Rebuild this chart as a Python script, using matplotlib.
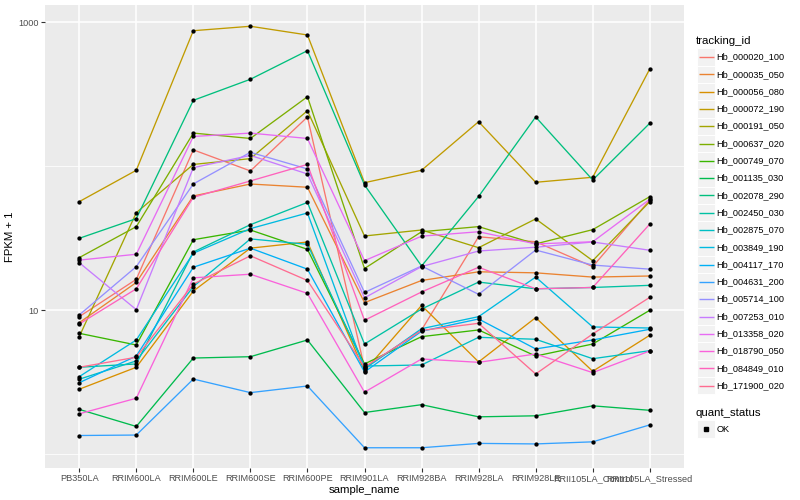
import matplotlib
matplotlib.use("Agg")
import matplotlib.pyplot as plt
from matplotlib.ticker import FixedLocator, NullFormatter
from matplotlib.patches import Rectangle

plt.rcParams['font.family'] = ['Liberation Sans', 'DejaVu Sans']

samples = ["PB350LA", "RRIM600LA", "RRIM600LE", "RRIM600SE", "RRIM600PE",
           "RRIM901LA", "RRIM928BA", "RRIM928LA", "RRIM928LE",
           "RRII105LA_Control", "RRII105LA_Stressed"]

tracking_ids = ["Hb_000020_100", "Hb_000035_050", "Hb_000056_080", "Hb_000072_190",
                "Hb_000191_050", "Hb_000637_020", "Hb_000749_070", "Hb_001135_030",
                "Hb_002078_290", "Hb_002450_030", "Hb_002875_070", "Hb_003849_190",
                "Hb_004117_170", "Hb_004631_200", "Hb_005714_100", "Hb_007253_010",
                "Hb_013358_020", "Hb_018790_050", "Hb_084849_010", "Hb_171900_020"]

colors = ["#F8766D", "#EA8331", "#D89000", "#C09B00", "#A3A500", "#7CAE00", "#39B600",
          "#00BB4E", "#00BF7D", "#00C1A3", "#00BFC4", "#00BAE0", "#00B0F6", "#35A2FF",
          "#9590FF", "#C77CFF", "#E76BF3", "#FA62DB", "#FF62BC", "#FF6C91"]

# FPKM + 1 values, one list per tracking_id, in sample order
hb_000020_100 = [9.03, 16.4, 130, 92.8, 220, 3.97, 7.30, 32.4, 29.9, 20.1, 58.3]
hb_000035_050 = [8.20, 15.6, 62.2, 75.3, 71.5, 11.3, 16.1, 18.5, 18.2, 17.0, 17.3]
hb_000056_080 = [2.83, 4.02, 13.6, 27.0, 29.8, 3.79, 10.8, 4.38, 8.89, 3.77, 6.71]
hb_000072_190 = [56.8, 93.8, 874, 938, 816, 76.9, 93.8, 204, 77.4, 83.9, 474]
hb_000191_050 = [6.56, 47.6, 103, 113, 243, 32.8, 36.1, 27.2, 43.1, 22.1, 56.8]
hb_000637_020 = [23.2, 38.1, 170, 156, 304, 19.5, 35.1, 38.1, 28.9, 36.3, 61.5]
hb_000749_070 = [6.92, 5.74, 30.9, 36.1, 26.5, 4.24, 6.56, 7.30, 4.81, 5.83, 10.0]
hb_001135_030 = [2.05, 1.56, 4.66, 4.76, 6.22, 1.95, 2.21, 1.82, 1.85, 2.17, 2.02]
hb_002078_290 = [31.6, 43.3, 287, 402, 635, 74.2, 20.3, 61.7, 220, 80.3, 199]
hb_002450_030 = [4.02, 4.24, 25.4, 39.3, 56.1, 5.83, 10.2, 15.7, 14.1, 14.4, 14.9]
hb_002875_070 = [3.32, 4.45, 14.6, 31.3, 28.7, 4.10, 4.17, 6.49, 6.29, 4.61, 5.24]
hb_003849_190 = [3.46, 6.22, 24.9, 36.9, 47.4, 3.91, 7.45, 9.03, 17.0, 7.66, 7.53]
hb_004117_170 = [3.14, 4.81, 19.9, 27.0, 19.3, 3.73, 7.15, 8.70, 5.39, 6.22, 7.38]
hb_004631_200 = [1.35, 1.36, 3.33, 2.68, 2.98, 1.11, 1.11, 1.19, 1.18, 1.22, 1.60]
hb_005714_100 = [9.28, 20.1, 75.4, 125, 95.8, 13.3, 20.3, 12.9, 26.2, 20.6, 19.3]
hb_007253_010 = [21.4, 10.1, 97.8, 119, 88.4, 12.2, 20.1, 25.8, 27.4, 29.8, 26.1]
hb_013358_020 = [22.3, 24.5, 161, 170, 156, 22.1, 32.7, 35.1, 28.9, 29.9, 59.0]
hb_018790_050 = [1.91, 2.45, 16.8, 17.8, 13.1, 2.70, 4.59, 4.35, 4.97, 3.69, 5.22]
hb_084849_010 = [8.03, 14.1, 60.9, 79.1, 103, 8.52, 13.4, 19.9, 14.1, 14.4, 39.7]
hb_171900_020 = [4.02, 4.72, 15.2, 23.9, 16.1, 4.04, 7.24, 8.12, 3.61, 6.85, 12.3]

series = [hb_000020_100, hb_000035_050, hb_000056_080, hb_000072_190, hb_000191_050,
          hb_000637_020, hb_000749_070, hb_001135_030, hb_002078_290, hb_002450_030,
          hb_002875_070, hb_003849_190, hb_004117_170, hb_004631_200, hb_005714_100,
          hb_007253_010, hb_013358_020, hb_018790_050, hb_084849_010, hb_171900_020]

y_major = [10, 1000]
y_major_labels = ["10", "1000"]
y_minor = [1, 100]

W, H = 800, 500
fig = plt.figure(figsize=(8, 5), dpi=100)
fig.patch.set_facecolor("white")

L, R, T, B = 45, 684, 5, 468
ax = fig.add_axes([L / W, 1 - B / H, (R - L) / W, (B - T) / H])
ax.set_facecolor("#EBEBEB")
for s in ax.spines.values():
    s.set_visible(False)

x = list(range(len(samples)))
for vals, c in zip(series, colors):
    ax.plot(x, vals, color=c, lw=0.95, zorder=2, solid_capstyle="butt")
for vals in series:
    ax.plot(x, vals, linestyle="none", marker="o", ms=3.1, mfc="black",
            mec="black", mew=0, zorder=3)

ax.set_yscale("log")
ax.set_ylim(0.803, 1318)
ax.set_xlim(-0.6, len(samples) - 0.4)
ax.set_xticks(x)
ax.set_xticklabels(samples)
ax.yaxis.set_major_locator(FixedLocator(y_major))
ax.set_yticklabels(y_major_labels)
ax.yaxis.set_minor_locator(FixedLocator(y_minor))
ax.yaxis.set_minor_formatter(NullFormatter())
ax.xaxis.set_minor_locator(FixedLocator([]))

ax.set_axisbelow(True)
ax.grid(which="major", axis="both", color="white", lw=1.1)
ax.grid(which="minor", axis="y", color="white", lw=0.55)
ax.tick_params(axis="both", which="major", length=2.7, width=0.8, color="#333333",
               labelsize=6.6, labelcolor="#4D4D4D", pad=1.8)
ax.tick_params(axis="y", which="minor", length=0)

ax.set_xlabel("sample_name", fontsize=8.2, color="black", labelpad=1.5)
ax.set_ylabel("FPKM + 1", fontsize=8.2, color="black", labelpad=2.5)

# legend drawn in pixel coordinates
lax = fig.add_axes([0, 0, 1, 1])
lax.set_xlim(0, W)
lax.set_ylim(H, 0)
lax.axis("off")
lax.patch.set_alpha(0)

lax.text(696, 40.5, "tracking_id", fontsize=8.2, va="center", ha="left", color="black")
step = 17.3
y0 = 57.0
for i, (tid, c) in enumerate(zip(tracking_ids, colors)):
    yc = y0 + i * step
    lax.add_patch(Rectangle((697.3, yc - step / 2), 17.3, step, facecolor="#F2F2F2",
                            edgecolor="white", lw=0.7))
    lax.plot([699.0, 713.6], [yc, yc], color=c, lw=1.0, solid_capstyle="butt")
    lax.text(716.5, yc, tid, fontsize=6.6, va="center", ha="left", color="black")

lax.text(696, 412.5, "quant_status", fontsize=8.2, va="center", ha="left", color="black")
yk = 429.0
lax.add_patch(Rectangle((697.3, yk - step / 2), 17.3, step, facecolor="#F2F2F2",
                        edgecolor="white", lw=0.7))
lax.plot([706.0], [yk], marker="s", ms=2.6, color="black", linestyle="none")
lax.text(716.5, yk, "OK", fontsize=6.6, va="center", ha="left", color="black")

fig.savefig("out.png", dpi=100)
